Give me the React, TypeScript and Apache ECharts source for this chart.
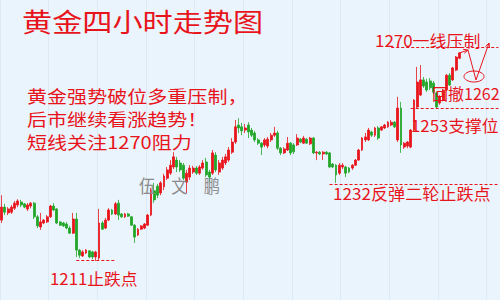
import React, { useEffect, useRef } from "react";
import * as echarts from "echarts";

// 4-hour gold candles: [open, close, low, high]
const kline: number[][] = [
  [1222.1, 1225.7, 1221.3, 1229.0],
  [1225.7, 1224.3, 1223.5, 1226.6],
  [1224.1, 1225.2, 1223.5, 1225.7],
  [1224.3, 1225.7, 1223.8, 1226.3],
  [1225.4, 1226.8, 1224.9, 1227.4],
  [1226.3, 1227.4, 1225.7, 1227.9],
  [1227.1, 1226.3, 1225.7, 1227.7],
  [1226.6, 1225.7, 1225.4, 1226.8],
  [1225.2, 1226.3, 1224.6, 1226.8],
  [1226.0, 1226.8, 1225.4, 1227.1],
  [1226.8, 1223.0, 1222.4, 1227.1],
  [1223.0, 1220.5, 1219.9, 1223.5],
  [1220.2, 1221.6, 1219.4, 1224.1],
  [1221.3, 1222.1, 1221.0, 1222.4],
  [1221.6, 1223.0, 1221.3, 1223.5],
  [1223.0, 1226.0, 1222.7, 1226.3],
  [1226.0, 1224.9, 1224.6, 1226.8],
  [1225.2, 1221.3, 1221.0, 1225.4],
  [1221.6, 1220.7, 1220.5, 1221.8],
  [1221.3, 1220.5, 1220.2, 1221.6],
  [1221.0, 1219.9, 1219.6, 1221.6],
  [1219.9, 1218.5, 1218.3, 1220.5],
  [1218.5, 1222.4, 1218.3, 1224.1],
  [1222.4, 1213.8, 1211.9, 1224.1],
  [1213.8, 1212.4, 1211.6, 1214.1],
  [1212.2, 1213.3, 1211.9, 1213.8],
  [1213.0, 1213.8, 1212.7, 1214.1],
  [1213.6, 1211.9, 1211.6, 1213.8],
  [1213.3, 1211.9, 1211.3, 1213.6],
  [1211.9, 1213.3, 1210.8, 1213.6],
  [1211.6, 1221.3, 1211.1, 1225.2],
  [1221.3, 1219.6, 1219.4, 1221.8],
  [1219.9, 1222.1, 1219.6, 1222.7],
  [1222.1, 1224.9, 1221.8, 1225.4],
  [1224.9, 1223.8, 1223.5, 1225.2],
  [1223.8, 1226.6, 1223.5, 1227.1],
  [1226.8, 1223.5, 1222.1, 1227.7],
  [1223.8, 1223.0, 1222.7, 1224.1],
  [1223.0, 1223.8, 1222.7, 1224.1],
  [1223.8, 1223.2, 1223.0, 1224.1],
  [1223.0, 1220.7, 1220.5, 1223.2],
  [1220.7, 1217.4, 1215.8, 1221.0],
  [1218.0, 1219.6, 1217.7, 1219.9],
  [1219.6, 1220.5, 1219.4, 1220.7],
  [1219.9, 1221.0, 1219.6, 1221.3],
  [1220.7, 1223.5, 1220.5, 1223.8],
  [1223.5, 1230.4, 1223.2, 1231.0],
  [1230.2, 1227.7, 1226.8, 1232.4],
  [1231.5, 1229.0, 1228.2, 1232.1],
  [1229.6, 1232.4, 1229.0, 1232.9],
  [1231.3, 1234.3, 1230.4, 1234.9],
  [1233.7, 1236.0, 1233.2, 1236.8],
  [1235.1, 1237.3, 1234.6, 1238.7],
  [1236.8, 1239.6, 1236.2, 1240.9],
  [1238.7, 1236.8, 1235.4, 1239.6],
  [1237.9, 1236.0, 1235.4, 1238.7],
  [1237.3, 1233.7, 1233.2, 1237.9],
  [1232.6, 1235.1, 1229.6, 1236.0],
  [1234.0, 1236.5, 1233.2, 1237.3],
  [1235.4, 1236.5, 1234.9, 1237.1],
  [1236.5, 1235.1, 1234.6, 1237.1],
  [1235.1, 1236.8, 1234.6, 1237.3],
  [1236.5, 1237.9, 1236.0, 1238.7],
  [1238.2, 1234.6, 1234.0, 1239.3],
  [1235.4, 1234.0, 1232.6, 1236.0],
  [1235.1, 1240.7, 1234.6, 1241.5],
  [1240.1, 1236.0, 1235.4, 1240.9],
  [1235.4, 1237.9, 1234.6, 1238.7],
  [1236.5, 1238.7, 1236.0, 1239.6],
  [1237.9, 1239.6, 1237.3, 1240.4],
  [1238.7, 1241.5, 1238.2, 1242.3],
  [1240.9, 1243.7, 1240.4, 1244.8],
  [1243.7, 1247.9, 1243.2, 1249.8],
  [1248.4, 1247.6, 1246.2, 1250.3],
  [1247.9, 1246.8, 1245.6, 1249.0],
  [1247.0, 1247.6, 1246.2, 1248.7],
  [1248.4, 1246.5, 1244.8, 1249.2],
  [1247.0, 1245.6, 1245.1, 1247.6],
  [1246.2, 1244.3, 1243.7, 1246.8],
  [1244.3, 1243.4, 1242.9, 1244.8],
  [1243.4, 1242.3, 1240.1, 1243.7],
  [1242.9, 1244.3, 1242.3, 1244.8],
  [1242.6, 1244.5, 1242.0, 1245.1],
  [1244.3, 1245.6, 1243.7, 1246.2],
  [1245.6, 1246.2, 1245.1, 1247.9],
  [1246.2, 1242.0, 1241.5, 1246.8],
  [1242.0, 1240.7, 1240.1, 1242.3],
  [1240.7, 1241.8, 1240.4, 1242.3],
  [1241.5, 1243.4, 1241.2, 1245.1],
  [1243.4, 1240.7, 1240.1, 1243.7],
  [1242.9, 1241.0, 1240.4, 1243.4],
  [1242.9, 1244.8, 1242.6, 1245.9],
  [1244.5, 1243.7, 1243.4, 1244.8],
  [1243.4, 1244.8, 1243.2, 1245.4],
  [1244.5, 1243.4, 1243.2, 1244.8],
  [1243.2, 1244.8, 1242.9, 1245.1],
  [1244.8, 1240.7, 1240.4, 1245.1],
  [1240.7, 1240.9, 1238.7, 1241.2],
  [1240.9, 1240.4, 1240.1, 1241.2],
  [1240.4, 1240.9, 1238.7, 1241.2],
  [1240.9, 1240.4, 1240.1, 1241.2],
  [1240.7, 1236.8, 1236.5, 1240.9],
  [1237.6, 1236.8, 1236.5, 1237.9],
  [1237.3, 1234.6, 1232.4, 1237.6],
  [1235.1, 1237.3, 1234.6, 1237.9],
  [1236.8, 1237.3, 1236.2, 1237.9],
  [1236.8, 1235.1, 1234.0, 1237.1],
  [1236.5, 1235.4, 1235.1, 1236.8],
  [1236.5, 1237.3, 1236.0, 1237.6],
  [1237.3, 1238.7, 1237.1, 1239.0],
  [1238.7, 1241.5, 1238.5, 1241.8],
  [1241.5, 1244.8, 1241.2, 1245.1],
  [1244.3, 1245.1, 1243.7, 1246.2],
  [1244.3, 1247.0, 1244.0, 1247.6],
  [1246.5, 1245.6, 1245.1, 1246.8],
  [1245.6, 1247.6, 1245.1, 1247.9],
  [1247.6, 1244.8, 1244.3, 1248.1],
  [1247.0, 1247.9, 1246.8, 1248.1],
  [1247.6, 1248.4, 1247.3, 1248.7],
  [1247.9, 1249.2, 1247.6, 1249.5],
  [1248.4, 1249.2, 1248.1, 1249.8],
  [1249.2, 1247.9, 1247.6, 1249.5],
  [1244.3, 1253.1, 1243.7, 1256.2],
  [1253.1, 1242.9, 1240.7, 1254.8],
  [1242.3, 1243.4, 1241.8, 1243.7],
  [1242.6, 1243.7, 1242.0, 1244.0],
  [1242.3, 1247.0, 1242.0, 1247.3],
  [1247.0, 1255.3, 1246.8, 1255.6],
  [1253.4, 1260.3, 1253.1, 1264.5],
  [1256.7, 1260.9, 1256.4, 1265.0],
  [1260.9, 1259.2, 1258.7, 1261.7],
  [1260.3, 1258.1, 1257.6, 1261.2],
  [1260.6, 1258.7, 1258.1, 1261.4],
  [1260.0, 1257.5, 1257.0, 1260.6],
  [1257.3, 1253.4, 1253.1, 1257.6],
  [1254.5, 1256.2, 1254.0, 1256.7],
  [1255.3, 1258.1, 1255.0, 1258.4],
  [1258.1, 1262.2, 1257.8, 1262.5],
  [1262.2, 1259.5, 1259.2, 1262.8],
  [1260.9, 1264.2, 1260.6, 1264.5],
  [1263.6, 1267.2, 1263.3, 1267.5],
  [1266.9, 1268.3, 1266.6, 1268.6],
];

// room on the right for the projected move
const slotCount = 154;
const slots = Array.from({ length: slotCount }, (_, i) => String(i + 1));

// key levels: [price, first slot, last slot]
const levels: number[][] = [
  [1211, 23, 35],
  [1232, 101, 153],
  [1253, 126, 153],
  [1270, 120, 153],
];

const title = "黄金四小时走势图";
const comment = ["黄金强势破位多重压制，", "后市继续看涨趋势！", "短线关注1270阻力"];
const author = "伍　文　鹏";
const levelNotes = {
  resist: "1270一线压制",
  pullback: "回撤1262",
  support: "1253支撑位",
  rebound: "1232反弹二轮止跌点",
  bottom: "1211止跌点",
};

const RED = "#e8141c";
const GREEN = "#22a628";
const CJK = "'Noto Sans CJK SC', sans-serif";

function note(text: string, x: number, y: number, size: number, sx: number, fill = RED) {
  return {
    type: "text",
    x,
    y,
    scaleX: sx,
    z: 10,
    style: {
      text,
      fill,
      fontSize: size,
      fontFamily: CJK,
      textAlign: "left",
      verticalAlign: "middle",
    },
  };
}

function buildOption() {
  return {
    animation: false,
    backgroundColor: "#eaf4fd",
    grid: { left: 0, right: 0, top: 0, bottom: 0 },
    xAxis: [
      {
        type: "category",
        data: slots,
        boundaryGap: true,
        show: false,
      },
      {
        type: "value",
        min: -24,
        max: 500,
        interval: 51,
        show: true,
        axisLine: { show: false },
        axisTick: { show: false },
        axisLabel: { show: false },
        splitLine: { show: true, lineStyle: { color: "#dde9f5", width: 1 } },
      },
    ],
    yAxis: {
      type: "value",
      min: 1200,
      max: 1283,
      axisLine: { show: false },
      axisTick: { show: false },
      axisLabel: { show: false },
      splitLine: { show: false },
    },
    series: [
      {
        type: "candlestick",
        xAxisIndex: 0,
        data: kline,
        barWidth: 2.4,
        itemStyle: {
          color: RED,
          color0: GREEN,
          borderColor: RED,
          borderColor0: GREEN,
          borderWidth: 0.8,
        },
        markLine: {
          silent: true,
          symbol: "none",
          label: { show: false },
          lineStyle: { color: RED, type: [3, 2], width: 1 },
          data: levels.map(([price, from, to]) => [
            { coord: [from, price] },
            { coord: [to, price] },
          ]),
        },
      },
    ],
    graphic: [
      note(title, 22, 20, 26, 1.16),
      note(comment[0], 27, 95, 17, 1.18),
      note(comment[1], 27, 118, 17, 1.18),
      note(comment[2], 27, 141, 17, 1.18),
      note(author, 139, 185, 18, 0.9, "#8a8a8a"),
      note(levelNotes.resist, 375, 40, 16, 1.06),
      note(levelNotes.pullback, 432, 93, 16, 1.0),
      note(levelNotes.support, 411, 125, 16, 1.05),
      note(levelNotes.rebound, 333, 193, 16, 1.07),
      note(levelNotes.bottom, 50, 278, 16, 1.05),
      {
        type: "polyline",
        z: 10,
        shape: { points: [[458, 53.5], [468, 50], [476, 80], [489, 43]] },
        style: { stroke: RED, lineWidth: 1, fill: null },
      },
      {
        type: "polyline",
        z: 10,
        shape: { points: [[463.1, 49.3], [468, 50], [464.3, 53.3]] },
        style: { stroke: RED, lineWidth: 1, fill: null },
      },
      {
        type: "polyline",
        z: 10,
        shape: { points: [[485.5, 46.6], [489, 43], [489.5, 48]] },
        style: { stroke: RED, lineWidth: 1, fill: null },
      },
      {
        type: "ellipse",
        z: 10,
        shape: { cx: 474, cy: 76.5, rx: 10, ry: 5.5 },
        style: { stroke: RED, lineWidth: 1, fill: null },
      },
    ],
  };
}

export default function App() {
  const ref = useRef<HTMLDivElement>(null);
  useEffect(() => {
    if (!ref.current) return;
    const chart = echarts.init(ref.current, null, { renderer: "svg" });
    chart.setOption(buildOption() as any);
    return () => chart.dispose();
  }, []);
  return (
    <div
      ref={ref}
      style={{ position: "absolute", left: 0, top: 0, width: 500, height: 300 }}
    />
  );
}
